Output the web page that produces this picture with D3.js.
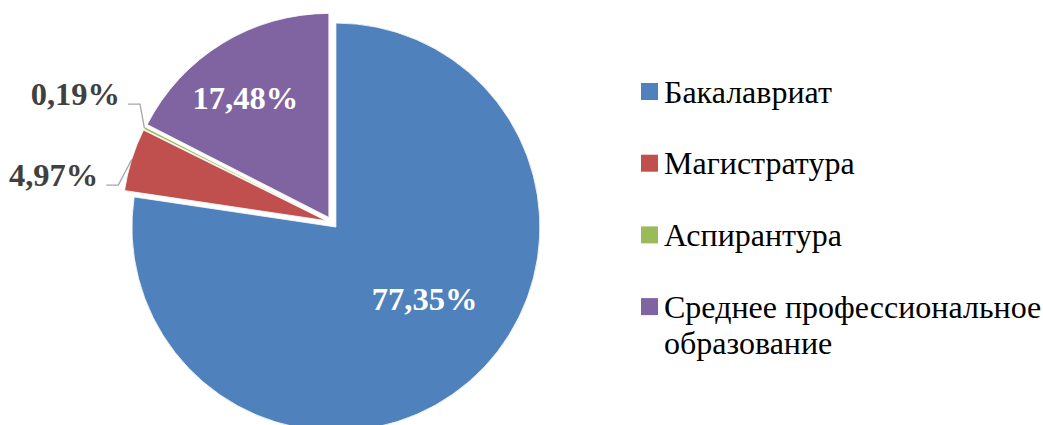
<!DOCTYPE html>
<html><head><meta charset="utf-8">
<script src="https://cdn.jsdelivr.net/npm/d3@7"></script>
<style>html,body{margin:0;padding:0;background:#fff;}svg{display:block;}</style>
</head><body>
<svg id="c" width="1043" height="425"></svg>
<script>
const categories = ["Бакалавриат", "Магистратура", "Аспирантура", "Среднее профессиональное образование"];
const values = [77.35, 4.97, 0.19, 17.48];
const labels = ["77,35%", "4,97%", "0,19%", "17,48%"];
const colors = ["#4F81BD", "#C0504D", "#9BBB59", "#8064A2"];

const W = 1043, H = 425;
const cx = 332, cy = 222.5, R = 204, explode = 6;
const svg = d3.select("#c");
const font = "'Liberation Serif','Times New Roman',serif";

const pie = d3.pie().sort(null).value(d => d)(values);
const arc = d3.arc().innerRadius(0).outerRadius(R);
const g = svg.append("g").attr("transform", `translate(${cx},${cy})`);

function mid(d){ return (d.startAngle + d.endAngle) / 2; }
function pol(a, r){ return [Math.sin(a) * r, -Math.cos(a) * r]; }

const slices = g.selectAll("g.s").data(pie).join("g")
  .attr("transform", d => { const p = pol(mid(d), explode); return `translate(${p[0]},${p[1]})`; });
slices.append("path").attr("d", arc)
  .attr("fill", (d,i) => colors[i]).attr("stroke", "#fff").attr("stroke-width", 0.8);

// inside labels (index 0 and 3): angle nudge (radians) and radius
const inside = {0: {da: -0.18, r: 114}, 3: {da: -0.06, r: 146}};
slices.each(function(d, i){
  const s = d3.select(this);
  if (inside[i]) {
    const p = pol(mid(d) + inside[i].da, inside[i].r);
    s.append("text").attr("x", p[0]).attr("y", p[1] + 11)
      .attr("text-anchor", "middle").attr("font-family", font).attr("font-weight", "bold")
      .attr("font-size", 32.5).attr("fill", "#fff").text(labels[i]);
  } else {
    const outer = {1: {ea: 279.7, er: 211}, 2: {ea: 301.8, er: 219.6}}[i];
    const e = pol(outer.ea * Math.PI / 180, outer.er);
    const a = pol(mid(d), R);
    s.append("polyline")
      .attr("points", [[a[0], a[1]], [e[0], e[1]], [e[0] - 12, e[1]]].map(p => p.join(",")).join(" "))
      .attr("fill", "none").attr("stroke", "#a6a6a6").attr("stroke-width", 1.3);
    s.append("text").attr("x", e[0] - 20).attr("y", e[1] + 1)
      .attr("text-anchor", "end").attr("font-family", font).attr("font-weight", "bold")
      .attr("font-size", 32.5).attr("fill", "#404040").text(labels[i]);
  }
});

// legend
const lx = 641, ly0 = 83, step = 71.7, sq = 17, maxW = W - 664 - 1;
const leg = svg.append("g");
categories.forEach((c, i) => {
  const y = ly0 + i * step;
  leg.append("rect").attr("x", lx).attr("y", y).attr("width", sq).attr("height", sq).attr("fill", colors[i]);
  const t = leg.append("text").attr("x", lx + 23).attr("y", y + sq/2 + 11)
    .attr("font-family", font).attr("font-size", 32).attr("fill", "#000");
  const words = c.split(" ");
  let line = [], tspan = t.append("tspan").attr("x", lx + 23).attr("dy", 0);
  words.forEach(w => {
    line.push(w);
    tspan.text(line.join(" "));
    if (tspan.node().getComputedTextLength() > maxW && line.length > 1) {
      line.pop(); tspan.text(line.join(" "));
      line = [w];
      tspan = t.append("tspan").attr("x", lx + 23).attr("dy", 36).text(w);
    }
  });
});
</script>
</body></html>
